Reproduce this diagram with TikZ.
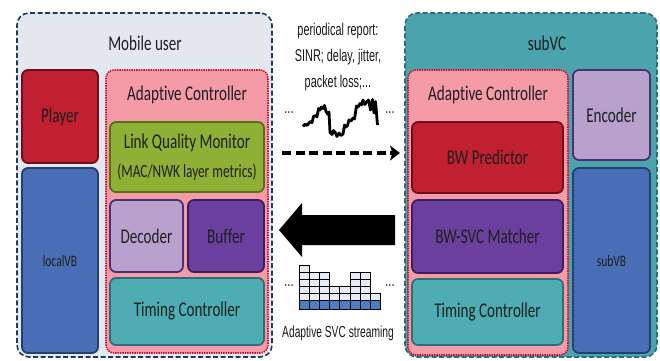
\documentclass[tikz,border=0pt]{standalone}
\usepackage{fontspec}
\setmainfont{Carlito}[FakeStretch=0.72,Ligatures=NoCommon]
\newfontfamily\notefont{Liberation Sans}[FakeStretch=0.64]
\usetikzlibrary{arrows.meta}

\definecolor{userbg}{HTML}{E3E8EF}
\definecolor{userline}{HTML}{1F3A5F}
\definecolor{vcbg}{HTML}{4BA3AD}
\definecolor{vcline}{HTML}{2F6E78}
\definecolor{ctrlbg}{HTML}{F49BA7}
\definecolor{ctrlline}{HTML}{C8102E}
\definecolor{redfill}{HTML}{C0202F}
\definecolor{redline}{HTML}{6E0F1C}
\definecolor{greenfill}{HTML}{8DB035}
\definecolor{greenline}{HTML}{556F1A}
\definecolor{lilacfill}{HTML}{B9A1CE}
\definecolor{lilacline}{HTML}{4B2F73}
\definecolor{purplefill}{HTML}{6B3F9E}
\definecolor{purpleline}{HTML}{3B1F63}
\definecolor{tealfill}{HTML}{4DADB3}
\definecolor{tealline}{HTML}{2C6F78}
\definecolor{bluefill}{HTML}{4A6EB5}
\definecolor{blueline}{HTML}{23406E}
\definecolor{layerbg}{HTML}{E6EBF5}
\definecolor{layerblue}{HTML}{4F7DC4}

\begin{document}
\begin{tikzpicture}
	[x=1pt,y=-1pt,
	outerbox/.style={draw,line width=1.6pt,dash pattern=on 5pt off 2.5pt,rounded corners=12pt,inner sep=0pt},
	ctrlbox/.style={draw=ctrlline,fill=ctrlbg,line width=1.6pt,dash pattern=on 1.4pt off 1pt,rounded corners=8pt,inner sep=0pt},
	unit/.style={draw,line width=1.8pt,rounded corners=6pt,inner sep=0pt,align=center,text=black!88,font=\fontsize{21}{30}\selectfont},
	title/.style={text=black!88,font=\fontsize{21}{24}\selectfont},
	note/.style={text=black!90,font=\notefont\fontsize{17}{20}\selectfont},
	layer/.style={draw=black,line width=0.9pt,fill=layerbg}]
	\useasboundingbox (0,0) rectangle (660,360);

	% mobile user side
	\node[outerbox,draw=userline,fill=userbg,minimum width=255,minimum height=344] (user) at (144.5,185) {};
	\node[title] (usertitle) at (145,43) {Mobile user};
	\node[unit,draw=redline,fill=redfill,minimum width=76,minimum height=93] (player) at (60,116.5) {Player};
	\node[unit,draw=blueline,fill=bluefill,minimum width=76,minimum height=185,font=\fontsize{16}{18}\selectfont] (localvb) at (60,260.5) {localVB};
	\node[ctrlbox,minimum width=162,minimum height=283] (ctrlL) at (187,211.5) {};
	\node[title] (ctrlLtitle) at (187,95) {Adaptive Controller};
	\node[unit,draw=greenline,fill=greenfill,minimum width=154,minimum height=70] (lqm) at (187,157)
		{Link Quality Monitor\\[-1pt]{\fontsize{18.5}{21}\selectfont(MAC/NWK layer metrics)}};
	\node[unit,draw=lilacline,fill=lilacfill,minimum width=73,minimum height=72] (decoder) at (146.5,236) {Decoder};
	\node[unit,draw=purpleline,fill=purplefill,minimum width=76,minimum height=72] (buffer) at (226,236) {Buffer};
	\node[unit,draw=tealline,fill=tealfill,minimum width=154,minimum height=67] (timingL) at (187,311.5) {Timing Controller};

	% subVC side
	\node[outerbox,draw=vcline,fill=vcbg,minimum width=252,minimum height=344] (subvc) at (531,185) {};
	\node[title] (subvctitle) at (547,43) {subVC};
	\node[ctrlbox,minimum width=160,minimum height=285] (ctrlR) at (488,212.5) {};
	\node[title] (ctrlRtitle) at (488,95) {Adaptive Controller};
	\node[unit,draw=redline,fill=redfill,minimum width=151,minimum height=71] (bwpred) at (487.5,157.5) {BW Predictor};
	\node[unit,draw=purpleline,fill=purplefill,minimum width=151,minimum height=73] (matcher) at (487.5,236.5) {BW-SVC Matcher};
	\node[unit,draw=tealline,fill=tealfill,minimum width=151,minimum height=66] (timingR) at (487.5,312) {Timing Controller};
	\node[unit,draw=lilacline,fill=lilacfill,minimum width=77,minimum height=90] (encoder) at (611.5,115) {Encoder};
	\node[unit,draw=blueline,fill=bluefill,minimum width=77,minimum height=185,font=\fontsize{16}{18}\selectfont] (subvb) at (611.5,260.5) {subVB};

	% periodical report
	\node[note] (rep1) at (338,31) {periodical report:};
	\node[note] (rep2) at (338,57) {SINR; delay, jitter,};
	\node[note] (rep3) at (338,83) {packet loss;...};
	\node[note] (dotsA) at (289,113) {...};
	\node[note] (dotsB) at (390,113) {...};
	\draw[line width=2.8pt,line join=round]
		(303,126.5) -- (305,124) -- (307,125.5) -- (310,121.5) -- (312,122.5) -- (313.5,116.5)
		-- (316,115.5) -- (317,117) -- (318.5,108.5) -- (320,110) -- (321.5,107) -- (323,108.5)
		-- (324.5,105.5) -- (326,111.5) -- (328,114.5) -- (329,112) -- (330,132.5) -- (332,134.5)
		-- (333.5,130.5) -- (335,132) -- (337,136.5) -- (339,133) -- (341,135.5) -- (343,134)
		-- (344.5,125) -- (346,127) -- (347.5,125.5) -- (349,120) -- (351,121) -- (353,118)
		-- (354.5,119) -- (356.5,106) -- (358,107) -- (360,103.5) -- (361.5,105) -- (363,100)
		-- (365,104.5) -- (366.5,102) -- (368.5,100) -- (370.5,110) -- (372.5,99.5) -- (374,113)
		-- (375.5,101.5) -- (377.5,125);
	\coordinate (repw) at (282,153);
	\coordinate (repe) at (400,153);
	\draw[line width=3.6pt,dash pattern=on 9pt off 4.5pt,-{Stealth[length=10pt,width=15pt,inset=2.5pt]}] (repw) -- (repe);

	% adaptive SVC streaming
	\fill[black] (395,215) -- (302,215) -- (302,203) -- (279,230) -- (302,257) -- (302,245) -- (395,245) -- cycle;
	\foreach \h [count=\c] in {6,5,5,3,3,5,5,2}
	{
		\pgfmathsetmacro\xa{299+(\c-1)*10.2}
		\pgfmathsetmacro\xb{\xa+10.2}
		\filldraw[layer,fill=layerblue] (\xa,309.3) rectangle (\xb,300.7);
		\foreach \r in {2,...,\h}
		{
			\ifnum\r>1
				\filldraw[layer] (\xa,{300.7-(\r-2)*7.1}) rectangle (\xb,{300.7-(\r-1)*7.1});
			\fi
		}
	}
	\node[note] (dotsC) at (289,286) {...};
	\node[note] (dotsD) at (390,286) {...};
	\node[note,font=\notefont\fontsize{16}{19}\selectfont] (svc) at (338,333) {Adaptive SVC streaming};
\end{tikzpicture}
\end{document}
